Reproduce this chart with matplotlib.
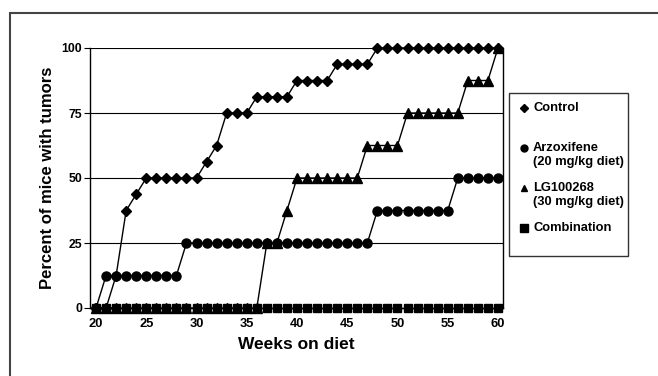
import matplotlib
matplotlib.use("Agg")
import matplotlib.pyplot as plt
import matplotlib.patches as mpatches
from matplotlib.lines import Line2D

plt.rcParams["font.family"] = ["Liberation Sans", "DejaVu Sans"]
plt.rcParams["font.weight"] = "bold"

weeks = list(range(20, 61))

control = [0, 0, 12.5, 37.5, 43.75, 50, 50, 50, 50, 50, 50, 56.25, 62.5, 75, 75, 75,
           81.25, 81.25, 81.25, 81.25, 87.5, 87.5, 87.5, 87.5, 93.75, 93.75, 93.75, 93.75,
           100, 100, 100, 100, 100, 100, 100, 100, 100, 100, 100, 100, 100]
arzoxifene = [0] + [12.5] * 8 + [25] * 19 + [37.5] * 8 + [50] * 5
lg100268 = [0] * 17 + [25, 25, 37.5] + [50] * 7 + [62.5] * 4 + [75] * 6 + [87.5] * 3 + [100]
combination = [0] * 41

series_labels = ["Control", "Arzoxifene\n(20 mg/kg diet)", "LG100268\n(30 mg/kg diet)", "Combination"]
y_ticks = [0, 25, 50, 75, 100]
x_ticks = [20, 25, 30, 35, 40, 45, 50, 55, 60]

W, H = 658, 376
fig = plt.figure(figsize=(W / 100, H / 100), dpi=100)
ax = fig.add_axes([90 / W, 1 - 308 / H, (503 - 90) / W, (308 - 48) / H])

# outer frame of the figure
fig.add_artist(mpatches.Rectangle((10 / W, -0.1), 1.2, 1 - 13 / H + 0.1,
                                  transform=fig.transFigure, fill=False,
                                  edgecolor="#444444", linewidth=1.5))

styles = [("D", 5.5), ("o", 6.5), ("^", 6.5), ("s", 5.5)]
for y, (m, ms) in zip([control, arzoxifene, lg100268, combination], styles):
    ax.plot(weeks, y, color="black", linewidth=1, marker=m, markersize=ms,
            markerfacecolor="black", markeredgecolor="black", clip_on=False, zorder=3)

for yv in y_ticks[1:]:
    ax.axhline(yv, color="black", linewidth=0.8, zorder=1)

ax.set_xlim(19.4, 60.5)
ax.set_ylim(0, 100)
ax.set_yticks(y_ticks)
ax.set_xticks(x_ticks)
ax.tick_params(axis="both", labelsize=8.8, length=4, width=0.8, pad=1.5)
ax.tick_params(axis="x", labelsize=9.3, length=0, pad=7)
for lab in ax.get_xticklabels() + ax.get_yticklabels():
    lab.set_fontweight("bold")
ax.spines["top"].set_visible(False)
for s in ["left", "bottom", "right"]:
    ax.spines[s].set_linewidth(1)
ax.set_xlabel("Weeks on diet", fontsize=12.5, fontweight="bold", labelpad=5)
ax.set_ylabel("Percent of mice with tumors", fontsize=12, fontweight="bold", labelpad=5)

# legend box
fig.add_artist(mpatches.Rectangle((509 / W, 1 - 256 / H), (628 - 509) / W, (256 - 93) / H,
                                  transform=fig.transFigure, fill=True, facecolor="white",
                                  edgecolor="#333333", linewidth=1))
leg_y = [108, 148, 188, 228]
leg_ms = [4, 5, 4.5, 5.5]
for lab, (m, ms), yy, lms in zip(series_labels, styles, leg_y, leg_ms):
    fig.add_artist(Line2D([524 / W], [1 - yy / H], marker=m, markersize=lms, color="black",
                          linestyle="none", transform=fig.transFigure))
    fig.text(533 / W, 1 - (yy - 6) / H, lab, fontsize=9.3, fontweight="bold",
             va="top", ha="left", linespacing=1.25)

fig.savefig("out.png", dpi=100, facecolor="white")
